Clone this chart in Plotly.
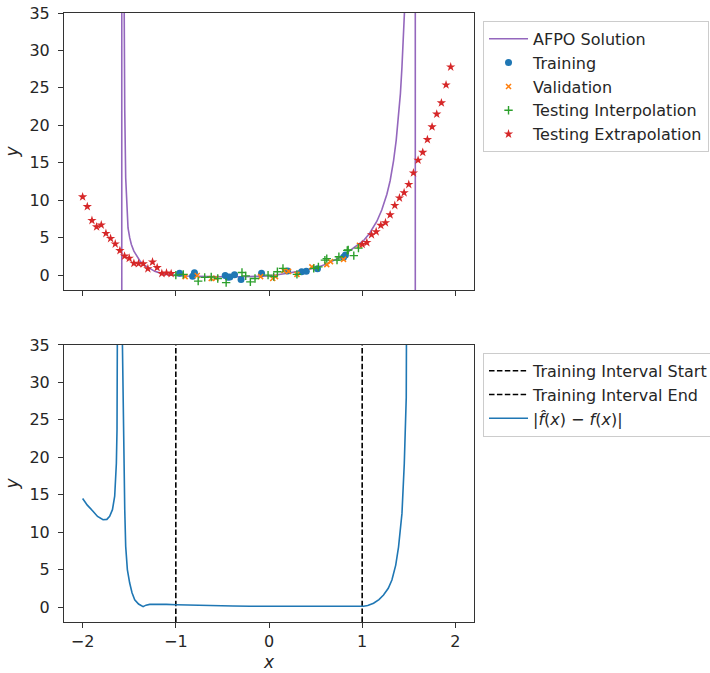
import plotly.graph_objects as go

# ---------------- data ----------------
x_ticks = [-2, -1, 0, 1, 2]
y_ticks = [0, 5, 10, 15, 20, 25, 30, 35]
x_range = [-2.2, 2.2]
y_range = [-2, 35]

# AFPO solution curve (values outside the view just make the asymptotes)
afpo_x = [-2.0, -1.9, -1.8, -1.7, -1.65, -1.62, -1.6, -1.59, -1.582, -1.578,
          -1.565, -1.558, -1.548, -1.538, -1.525, -1.513, -1.495, -1.477, -1.45,
          -1.423, -1.38, -1.333, -1.28, -1.226, -1.15, -1.05, -0.9, -0.7, -0.5,
          -0.3, -0.1, 0.0, 0.2, 0.4, 0.5, 0.62, 0.7, 0.8, 0.871, 0.95, 1.014,
          1.08, 1.158, 1.21, 1.265, 1.30, 1.337, 1.365, 1.39, 1.41, 1.427, 1.445,
          1.462, 1.49, 1.52, 1.545, 1.56, 1.568, 1.572, 1.58, 1.7, 1.85, 2.0]
afpo_y = [-4.2, -4.6, -5.0, -7.2, -10.6, -20, -40, -80, -2000, 2000,
          60, 35, 22, 13, 8.5, 6.3, 5.0, 4.1, 3.2,
          2.6, 1.8, 1.3, 0.85, 0.5, 0.2, 0.0, -0.12, -0.2, -0.22,
          -0.22, -0.18, -0.12, 0.25, 0.65, 0.95, 1.5, 1.95, 2.6, 3.3, 4.0, 4.6,
          5.6, 7.2, 8.7, 10.8, 12.6, 15.3, 18.0, 21.1, 24.2, 27.8, 31.5,
          35.2, 45, 70, 150, 600, 2000, -2000, -300, -60, -30, -20]

train_x = [-0.96, -0.82, -0.80, -0.47, -0.44, -0.42, -0.37, -0.30, -0.08,
           0.20, 0.35, 0.40, 0.52, 0.80, 0.82]
train_y = [0.25, -0.15, 0.3, -0.05, -0.3, -0.25, 0.05, -0.6, 0.25,
           0.55, 0.45, 0.5, 0.85, 2.4, 2.7]

val_x = [-0.90, -0.77, -0.62, -0.57, -0.09, 0.04, 0.07, 0.16, 0.21, 0.30,
         0.46, 0.62, 0.66, 0.80, 0.97]
val_y = [-0.2, -0.05, -0.45, -0.4, -0.2, -0.45, -0.2, 0.6, 0.5, 0.1,
         1.1, 1.4, 1.8, 2.1, 4.0]

interp_x = [-1.0, -0.92, -0.76, -0.69, -0.62, -0.55, -0.46, -0.29, -0.25,
            -0.2, -0.15, -0.01, 0.05, 0.09, 0.15, 0.3, 0.48, 0.53, 0.6, 0.62,
            0.73, 0.75, 0.84, 0.85, 0.91, 0.96]
interp_y = [0.0, 0.1, -0.8, -0.3, -0.25, -0.45, -1.0, 0.35, -0.1,
            -0.9, -0.45, 0.0, -0.2, 0.45, 0.9, 0.1, 0.9, 1.1, 2.0, 2.2,
            2.0, 2.45, 3.3, 3.35, 2.6, 3.6]

extrap_x = [-2.0, -1.95, -1.9, -1.85, -1.8, -1.75, -1.7, -1.65, -1.6, -1.55,
            -1.5, -1.45, -1.4, -1.35, -1.3, -1.25, -1.2, -1.15, -1.1, -1.05,
            1.0, 1.05, 1.1, 1.15, 1.2, 1.25, 1.3, 1.35, 1.4, 1.45,
            1.5, 1.55, 1.6, 1.65, 1.7, 1.75, 1.8, 1.85, 1.9, 1.95]
extrap_y = [10.45, 9.15, 7.3, 6.45, 6.7, 5.56, 4.9, 4.16, 3.27, 2.54,
            2.25, 1.58, 1.53, 1.5, 0.85, 1.75, 1.0, 0.22, 0.29, 0.2,
            4.1, 4.35, 5.4, 5.8, 6.65, 7.0, 8.05, 9.3, 10.3, 11.0,
            12.1, 13.65, 15.35, 16.4, 18.1, 19.8, 21.5, 23.0, 25.4, 27.8]

interval_start = -1
interval_end = 1

err_x = [-2.0, -1.95, -1.889, -1.84, -1.781, -1.74, -1.71, -1.68, -1.656,
         -1.638, -1.631, -1.62, -1.613, -1.60, -1.59, -1.58, -1.573, -1.566,
         -1.559, -1.548, -1.538, -1.52, -1.495, -1.47, -1.441, -1.40, -1.351,
         -1.32, -1.28, -1.172, -1.1, -0.993, -0.742, -0.5, -0.387, -0.2, -0.03,
         0.2, 0.51, 0.75, 0.978, 1.014, 1.06, 1.122, 1.18, 1.229, 1.28, 1.319,
         1.36, 1.39, 1.427, 1.452, 1.473, 1.484, 1.5, 1.55, 1.6, 1.8, 2.0]
err_y = [14.5, 13.6, 12.8, 12.1, 11.65, 11.7, 12.1, 13.0, 14.8,
         19.2, 23.7, 30.3, 35, 60, 200, 200, 35, 26,
         19.2, 13, 8.1, 5.0, 3.2, 1.9, 0.97, 0.4, 0.05,
         0.25, 0.35, 0.4, 0.35, 0.3, 0.2, 0.15, 0.14, 0.1, 0.1,
         0.13, 0.15, 0.1, 0.08, 0.1, 0.2, 0.5, 1.0, 1.6, 2.5, 3.6,
         5.6, 8.0, 12.5, 19.2, 28, 35, 50, 100, 500, 200, 100]

# ---------------- figure ----------------
FONT = "DejaVu Sans"
TXT = "#262626"
AX = "#333333"

fig = go.Figure()

fig.add_trace(go.Scatter(x=afpo_x, y=afpo_y, mode="lines", name="AFPO Solution",
                         line=dict(color="#9467bd", width=1.6),
                         xaxis="x", yaxis="y", legend="legend"))
fig.add_trace(go.Scatter(x=train_x, y=train_y, mode="markers", name="Training",
                         marker=dict(symbol="circle", size=7, color="#1f77b4"),
                         xaxis="x", yaxis="y", legend="legend"))
fig.add_trace(go.Scatter(x=val_x, y=val_y, mode="markers", name="Validation",
                         marker=dict(symbol="x-thin", size=5, color="#ff7f0e",
                                     line=dict(color="#ff7f0e", width=1.5)),
                         xaxis="x", yaxis="y", legend="legend"))
fig.add_trace(go.Scatter(x=interp_x, y=interp_y, mode="markers",
                         name="Testing Interpolation",
                         marker=dict(symbol="cross-thin", size=6, color="#2ca02c",
                                     line=dict(color="#2ca02c", width=1.4)),
                         xaxis="x", yaxis="y", legend="legend"))
fig.add_trace(go.Scatter(x=extrap_x, y=extrap_y, mode="markers",
                         name="Testing Extrapolation",
                         marker=dict(symbol="star", size=7, color="#d62728"),
                         xaxis="x", yaxis="y", legend="legend"))

fig.add_trace(go.Scatter(x=[interval_start, interval_start], y=y_range, mode="lines",
                         name="Training Interval Start",
                         line=dict(color="black", width=1.6, dash="5.5px,2.4px"),
                         xaxis="x2", yaxis="y2", legend="legend2"))
fig.add_trace(go.Scatter(x=[interval_end, interval_end], y=y_range, mode="lines",
                         name="Training Interval End",
                         line=dict(color="black", width=1.6, dash="5.5px,2.4px"),
                         xaxis="x2", yaxis="y2", legend="legend2"))
fig.add_trace(go.Scatter(x=err_x, y=err_y, mode="lines",
                         name="|<i>f̂</i>(<i>x</i>) − <i>f</i>(<i>x</i>)|",
                         line=dict(color="#1f77b4", width=1.6),
                         xaxis="x2", yaxis="y2", legend="legend2"))

axis_common = dict(range=x_range, tickvals=x_ticks, ticks="outside", ticklen=5,
                   tickcolor=AX, showline=True, linecolor=AX, linewidth=1,
                   mirror=True, showgrid=False, zeroline=False, automargin=False,
                   tickfont=dict(family=FONT, size=16, color=TXT))
yaxis_common = dict(range=y_range, tickvals=y_ticks, ticks="outside", ticklen=5,
                    tickcolor=AX, showline=True, linecolor=AX, linewidth=1,
                    mirror=True, showgrid=False, zeroline=False, automargin=False,
                    tickfont=dict(family=FONT, size=16, color=TXT),
                    ticklabelstandoff=5,
                    title=dict(text="<i>y</i>", font=dict(family=FONT, size=17, color=TXT),
                               standoff=6))

legend_common = dict(bgcolor="white", bordercolor="#cccccc", borderwidth=1,
                     font=dict(family=FONT, size=16, color=TXT),
                     xanchor="left", yanchor="top", itemwidth=39,
                     tracegroupgap=0)

fig.update_layout(
    width=710, height=673,
    margin=dict(l=64, r=236, t=13, b=51, autoexpand=False),
    paper_bgcolor="white", plot_bgcolor="white",
    font=dict(family=FONT, size=16, color=TXT),
    xaxis=dict(axis_common, anchor="y", matches="x2", showticklabels=False),
    yaxis=dict(yaxis_common, domain=[0.545, 1.0], anchor="x"),
    xaxis2=dict(axis_common, anchor="y2",
                title=dict(text="<i>x</i>", font=dict(family=FONT, size=17, color=TXT),
                           standoff=5)),
    yaxis2=dict(yaxis_common, domain=[0.0, 0.455], anchor="x2"),
    legend=dict(legend_common, x=1.022, y=0.987),
    legend2=dict(legend_common, x=1.022, y=0.442),
    showlegend=True,
)

fig.write_html("out.html")
